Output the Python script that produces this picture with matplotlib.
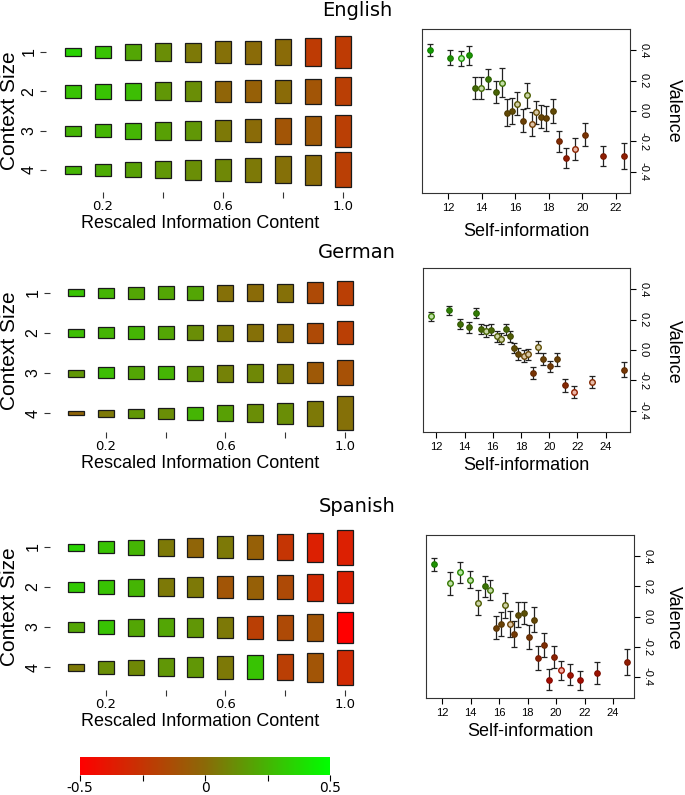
import numpy as np
import matplotlib
matplotlib.use("Agg")
import matplotlib.pyplot as plt
from matplotlib.colors import LinearSegmentedColormap, Normalize, to_rgb
from matplotlib.patches import Rectangle

# ---------------- data ----------------
languages = ["English", "German", "Spanish"]
context_sizes = [1, 2, 3, 4]
info_bins = [0.1, 0.2, 0.3, 0.4, 0.5, 0.6, 0.7, 0.8, 0.9, 1.0]
info_ticks = [0.2, 0.4, 0.6, 0.8, 1.0]
info_tick_labels = ["0.2", "", "0.6", "", "1.0"]
cbar_ticks = [-0.5, -0.25, 0, 0.25, 0.5]
cbar_tick_labels = ["-0.5", "", "0", "", "0.5"]
valence_ticks = [0.4, 0.2, 0.0, -0.2, -0.4]
valence_tick_labels = ["0.4", "0.2", "0.0", "-0.2", "-0.4"]

# box size (relative to row spacing, x40) per context size row
en_box_size = [[8, 12, 16, 18, 19, 22, 23, 26, 28, 32],
               [13, 15, 17, 18, 20, 21, 22, 23, 25, 28],
               [10, 13, 16, 18, 19, 21, 23, 26, 29, 32],
               [8, 12, 15, 17, 20, 22, 24, 27, 30, 35]]
de_box_size = [[7, 10, 12, 13, 14, 16, 17, 18, 21, 24],
               [8, 11, 13, 13, 15, 16, 17, 18, 20, 23],
               [7, 11, 13, 13, 15, 17, 18, 19, 21, 25],
               [4, 7, 9, 11, 13, 16, 18, 21, 25, 34]]
es_box_size = [[7, 12, 15, 17, 19, 22, 24, 26, 29, 35],
               [10, 14, 17, 18, 20, 22, 23, 24, 27, 32],
               [10, 14, 17, 18, 19, 21, 23, 25, 27, 31],
               [7, 13, 15, 18, 20, 23, 24, 26, 29, 35]]

# box colour = mean valence
en_box_val = [[0.35, 0.30, 0.20, 0.12, 0.05, 0.02, 0.00, 0.00, -0.22, -0.22],
              [0.30, 0.30, 0.28, 0.15, 0.12, -0.02, -0.05, 0.00, -0.10, -0.20],
              [0.25, 0.25, 0.25, 0.18, 0.15, 0.05, 0.00, -0.10, -0.08, -0.20],
              [0.25, 0.22, 0.18, 0.15, 0.12, 0.10, 0.05, 0.02, 0.00, -0.20]]
de_box_val = [[0.30, 0.25, 0.20, 0.20, 0.20, 0.02, 0.00, 0.02, -0.15, -0.20],
              [0.28, 0.25, 0.25, 0.20, 0.12, 0.05, 0.02, 0.00, -0.15, -0.20],
              [0.15, 0.28, 0.20, 0.25, 0.15, 0.08, 0.10, 0.05, -0.08, -0.12],
              [-0.02, 0.05, 0.15, 0.12, 0.25, 0.18, 0.12, 0.12, 0.05, 0.02]]
es_box_val = [[0.35, 0.30, 0.25, 0.05, -0.02, 0.05, -0.05, -0.25, -0.35, -0.35],
              [0.32, 0.30, 0.25, 0.05, 0.05, -0.10, -0.05, -0.15, -0.30, -0.35],
              [0.20, 0.30, 0.20, 0.20, 0.15, 0.05, -0.20, -0.15, -0.10, -0.50],
              [0.05, 0.12, 0.10, 0.15, 0.15, 0.05, 0.30, -0.20, -0.10, -0.30]]

# scatter: self-information vs valence
en_si = [10.90, 12.14, 12.76, 13.24, 13.62, 13.96, 14.40, 14.84, 15.20, 15.50, 15.80, 16.10, 16.44,
         16.72, 16.98, 17.26, 17.54, 17.84, 18.28, 18.64, 19.04, 19.58, 20.14, 21.22, 22.50]
en_val = [0.400, 0.351, 0.348, 0.366, 0.153, 0.153, 0.209, 0.124, 0.187, -0.011, 0.000, 0.047, -0.063,
          0.103, -0.087, -0.009, -0.038, -0.049, -0.002, -0.200, -0.312, -0.251, -0.155, -0.296, -0.296]
en_err = [0.041, 0.048, 0.050, 0.064, 0.071, 0.073, 0.065, 0.073, 0.095, 0.090, 0.084, 0.076, 0.076,
          0.083, 0.078, 0.078, 0.075, 0.084, 0.080, 0.070, 0.066, 0.074, 0.076, 0.067, 0.087]
en_open = [0, 0, 1, 0, 0, 1, 0, 0, 1, 0, 0, 1, 0, 1, 1, 1, 0, 0, 0, 0, 0, 1, 0, 0, 0]

de_si = [11.62, 12.90, 13.65, 14.31, 14.78, 15.14, 15.51, 15.89, 16.27, 16.60, 16.91, 17.24, 17.54,
         17.78, 18.18, 18.51, 18.84, 19.19, 19.59, 20.07, 20.56, 21.10, 21.76, 23.01, 25.28]
de_val = [0.222, 0.262, 0.171, 0.149, 0.244, 0.140, 0.127, 0.133, 0.089, 0.073, 0.138, 0.089, 0.011,
          -0.027, -0.040, -0.029, -0.151, 0.018, -0.060, -0.107, -0.062, -0.233, -0.278, -0.211, -0.129]
de_err = [0.028, 0.030, 0.036, 0.037, 0.030, 0.032, 0.039, 0.036, 0.036, 0.036, 0.036, 0.036, 0.033,
          0.039, 0.039, 0.036, 0.039, 0.039, 0.039, 0.037, 0.041, 0.041, 0.038, 0.042, 0.047]
de_open = [1, 0, 0, 0, 0, 0, 1, 0, 1, 1, 0, 0, 0, 0, 1, 1, 0, 1, 0, 0, 0, 0, 1, 1, 0]

es_si = [11.39, 12.58, 13.26, 13.92, 14.48, 15.02, 15.37, 15.81, 16.16, 16.44, 16.75, 17.03, 17.33,
         17.71, 18.08, 18.43, 18.74, 19.13, 19.49, 19.86, 20.33, 20.94, 21.66, 22.85, 24.98]
es_val = [0.345, 0.219, 0.292, 0.245, 0.091, 0.201, 0.175, -0.075, -0.051, 0.073, -0.051, -0.117, 0.013,
          0.024, -0.135, -0.022, -0.275, -0.190, -0.418, -0.268, -0.357, -0.386, -0.421, -0.375, -0.301]
es_err = [0.044, 0.074, 0.071, 0.058, 0.083, 0.070, 0.067, 0.077, 0.079, 0.081, 0.086, 0.086, 0.080,
          0.075, 0.080, 0.083, 0.077, 0.080, 0.072, 0.071, 0.061, 0.070, 0.063, 0.075, 0.085]
es_open = [0, 1, 1, 1, 1, 0, 1, 0, 0, 1, 1, 0, 0, 0, 0, 0, 0, 0, 0, 0, 1, 0, 0, 0, 0]

en_si_ticks = [12, 14, 16, 18, 20, 22]
de_si_ticks = [12, 14, 16, 18, 20, 22, 24]
es_si_ticks = [12, 14, 16, 18, 20, 22, 24]

# ---------------- style / layout ----------------
W, H = 685, 795
fig = plt.figure(figsize=(W / 100, H / 100), dpi=100)
cmap = LinearSegmentedColormap.from_list("val", ["#FF0000", "#8B6A08", "#00FF00"])
norm = Normalize(-0.5, 0.5)
SANS = ["Liberation Sans", "DejaVu Sans"]


def add_ax(l, t, r, b):
    return fig.add_axes([l / W, 1 - b / H, (r - l) / W, (b - t) / H])


def ftext(x, y, s, **kw):
    fig.text(x / W, 1 - y / H, s, **kw)


def left_panel(sizes, vals, box, xlim, ylim, row_px, px_per_unit):
    ax = add_ax(*box)
    ax.set_xlim(*xlim)
    ax.set_ylim(*ylim)
    bw = 16.0 / px_per_unit
    for i, cs in enumerate(context_sizes):
        for j, ib in enumerate(info_bins):
            h = sizes[i][j] / row_px
            ax.add_patch(Rectangle((ib - bw / 2, cs - h / 2), bw, h,
                                   facecolor=cmap(norm(vals[i][j])), edgecolor="#1a1a1a",
                                   lw=0.9, clip_on=False))
    for s in ax.spines.values():
        s.set_visible(False)
    ax.set_yticks(context_sizes)
    ax.set_yticklabels([str(c) for c in context_sizes], rotation=90, va="center",
                       family=SANS, fontsize=11.5)
    ax.set_xticks(info_ticks)
    ax.set_xticklabels(info_tick_labels, fontsize=9.5, family="DejaVu Sans")
    ax.tick_params(axis="y", length=4, width=0.8, color="#333333", pad=3)
    ax.tick_params(axis="x", length=4, width=0.8, color="#333333", pad=1.5)
    return ax


def right_panel(si, val, err, opn, box, xlim, xticks):
    ax = add_ax(*box)
    ax.set_xlim(*xlim)
    ax.set_ylim(-0.54, 0.54)
    for x, y, e, o in zip(si, val, err, opn):
        ax.errorbar(x, y, yerr=e, fmt="none", ecolor="#222222", elinewidth=0.9,
                    capsize=2, capthick=0.9, zorder=2)
        c = np.array(to_rgb(cmap(norm(y))))
        dark = c * 0.7
        if o:
            face = c * 0.35 + np.array([1, 1, 1]) * 0.65
            ax.plot(x, y, "o", ms=4, mfc=face, mec=dark, mew=1.0, zorder=3)
        else:
            ax.plot(x, y, "o", ms=4, mfc=dark, mec=dark * 0.8, mew=0.8, zorder=3)
    ax.set_xticks(xticks)
    ax.set_xticklabels([str(t) for t in xticks], family=SANS, fontsize=8)
    ax.yaxis.tick_right()
    ax.set_yticks(valence_ticks)
    ax.set_yticklabels(valence_tick_labels, rotation=-90, va="center", ha="left",
                       family=SANS, fontsize=8)
    ax.tick_params(axis="x", length=4, width=0.8, pad=3)
    ax.tick_params(axis="y", length=4, width=0.8, pad=2)
    for s in ax.spines.values():
        s.set_linewidth(0.8)
        s.set_color("#333333")
    return ax


# left panels: (l, t, r, b), xlim, ylim(rows inverted)
left_panel(en_box_size, en_box_val, (46, 30, 360, 192), (0.01, 1.0567), (4.562, 0.44), 39.3, 300)
left_panel(de_box_size, de_box_val, (50, 270, 362, 432), (0.0134, 1.057), (4.475, 0.425), 40, 299)
left_panel(es_box_size, es_box_val, (50, 525, 362, 690), (0.0134, 1.057), (4.575, 0.45), 40, 299)

right_panel(en_si, en_val, en_err, en_open, (422, 29, 630, 193), (10.45, 22.84), en_si_ticks)
right_panel(de_si, de_val, de_err, de_open, (423, 268, 630, 432), (11.06, 25.72), de_si_ticks)
right_panel(es_si, es_val, es_err, es_open, (426, 535, 634, 698), (10.86, 25.47), es_si_ticks)

# titles and labels
for lang, y in zip(languages, [11, 253, 507]):
    ftext(357, y, lang, ha="center", va="center", fontsize=14, family="DejaVu Sans")
for y in [223, 464, 722]:
    ftext(200, y, "Rescaled Information Content", ha="center", va="center", fontsize=13, family=SANS)
for y in [111, 351, 607]:
    ftext(10, y, "Context Size", ha="center", va="center", rotation=90, fontsize=15, family=SANS)
for x, y in [(526, 232), (526, 466), (530, 731)]:
    ftext(x, y, "Self-information", ha="center", va="center", fontsize=13, family=SANS)
for y in [111, 352, 618]:
    ftext(673, y, "Valence", ha="center", va="center", rotation=-90, fontsize=13, family=SANS)

# colour bar
cax = add_ax(80, 757, 330, 775)
cax.imshow(np.linspace(-0.5, 0.5, 256)[None, :], extent=(-0.5, 0.5, 0, 1), aspect="auto",
           cmap=cmap, norm=norm)
cax.set_xlim(-0.5, 0.5)
cax.set_yticks([])
cax.set_xticks(cbar_ticks)
cax.set_xticklabels(cbar_tick_labels, fontsize=10, family="DejaVu Sans")
cax.tick_params(axis="x", length=4, width=0.8, pad=0.5)
for s in cax.spines.values():
    s.set_visible(False)

fig.savefig("out.png", dpi=100)
